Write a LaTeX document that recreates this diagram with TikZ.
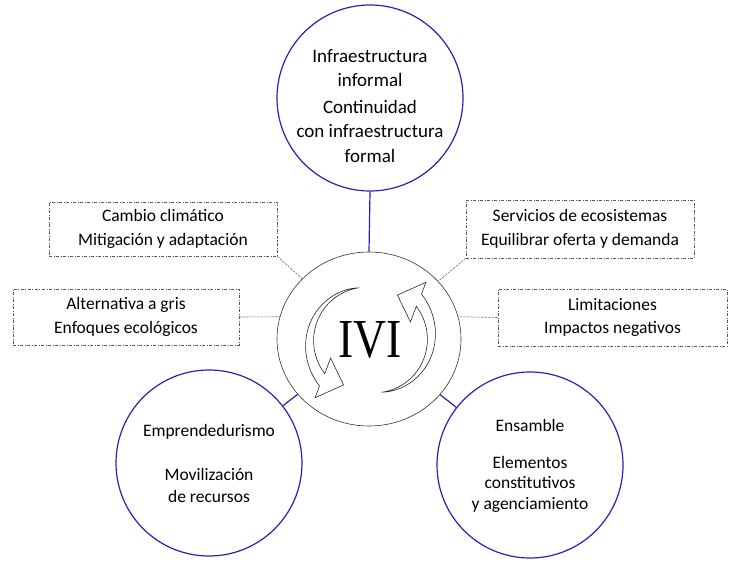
\documentclass[tikz,border=0pt]{standalone}
\usepackage{fontspec}
\setmainfont{Carlito}
\newfontfamily\ivifont{Liberation Serif}
\usetikzlibrary{shapes.geometric,calc}
\definecolor{cblue}{RGB}{45,30,180}
\definecolor{bgray}{RGB}{85,85,105}
\definecolor{lgray}{RGB}{120,120,140}
\begin{document}
\begin{tikzpicture}[x=1pt,y=-1pt,
  bigc/.style={circle,draw=cblue,line width=1.2pt,minimum size=186pt,inner sep=0pt},
  dbox/.style={draw=bgray,dash pattern=on 3pt off 1.5pt on 1pt off 1.5pt,line width=0.6pt,inner sep=0pt,align=center,font=\fontsize{17.5}{23.5}\selectfont},
  ctext/.style={align=center,font=\fontsize{19}{24.5}\selectfont},
  stext/.style={align=center,font=\fontsize{17.5}{22}\selectfont},
  dlink/.style={draw=lgray,line width=0.6pt,dash pattern=on 2.5pt off 1pt},
  blink/.style={draw=cblue,line width=1.2pt},
  arr/.style={draw=black!85,line width=0.6pt,fill=white}]
\useasboundingbox (0,0) rectangle (735,569);

% central ellipse
\node[ellipse,draw=black!80,line width=0.6pt,minimum width=184pt,minimum height=174pt,inner sep=0pt] (c) at (369,339) {};

% outer circles
\node[bigc] (t) at (370,98) {};
\node[bigc] (bl) at (209,463) {};
\node[bigc] (br) at (530,465) {};

\node[ctext] (tt) at (370,106) {Infraestructura\\informal\\[2pt]Continuidad\\con infraestructura\\formal};
\node[stext] (blt) at (209,463) {Emprendedurismo\\[22pt]Movilizaci\'on\\de recursos};
\node[stext,font=\fontsize{17.5}{20.5}\selectfont] (brt) at (530,466) {Ensamble\\[16pt]Elementos\\constitutivos\\y agenciamiento};

% dashed boxes
\node[dbox,minimum width=228pt,minimum height=54pt] (b1) at (163,229) {Cambio clim\'atico\\Mitigaci\'on y adaptaci\'on};
\node[dbox,minimum width=226pt,minimum height=56pt] (b2) at (126,317) {Alternativa a gris\\Enfoques ecol\'ogicos};
\node[dbox,minimum width=228pt,minimum height=58pt] (b3) at (580,229) {Servicios de ecosistemas\\Equilibrar oferta y demanda};
\node[dbox,minimum width=229pt,minimum height=57pt] (b4) at (612.5,317.5) {Limitaciones\\Impactos negativos};

% connectors
\draw[blink] (t.south) -- (c.north);
\draw[blink] (bl) -- (c);
\draw[blink] (br) -- (c);
\draw[dlink] (b1.south east) -- (c);
\draw[dlink] (b3.south west) -- (c);
\draw[dlink] (b2.east) -- (c.166);
\draw[dlink] (b4.west) -- (c.14);

% circular arrows
\begin{scope}[shift={(368,339)},yscale=-1]
\draw[arr] plot[domain=100:224,samples=50,smooth] (\x:{52+15.5*(\x-100)/124}) -- (228:79) -- (242:52) -- (207:42) -- plot[domain=218.7:100,samples=50,smooth] (\x:{52+3.5*(\x-100)/118.7}) -- cycle;
\end{scope}
\begin{scope}[shift={(373,341)},yscale=-1,rotate=180]
\draw[arr] plot[domain=100:224,samples=50,smooth] (\x:{52+15.5*(\x-100)/124}) -- (228:79) -- (242:52) -- (207:42) -- plot[domain=218.7:100,samples=50,smooth] (\x:{52+3.5*(\x-100)/118.7}) -- cycle;
\end{scope}

\node[font=\ivifont\fontsize{55}{55}\selectfont,xscale=0.83] (ivi) at (370,340) {IVI};
\end{tikzpicture}
\end{document}
